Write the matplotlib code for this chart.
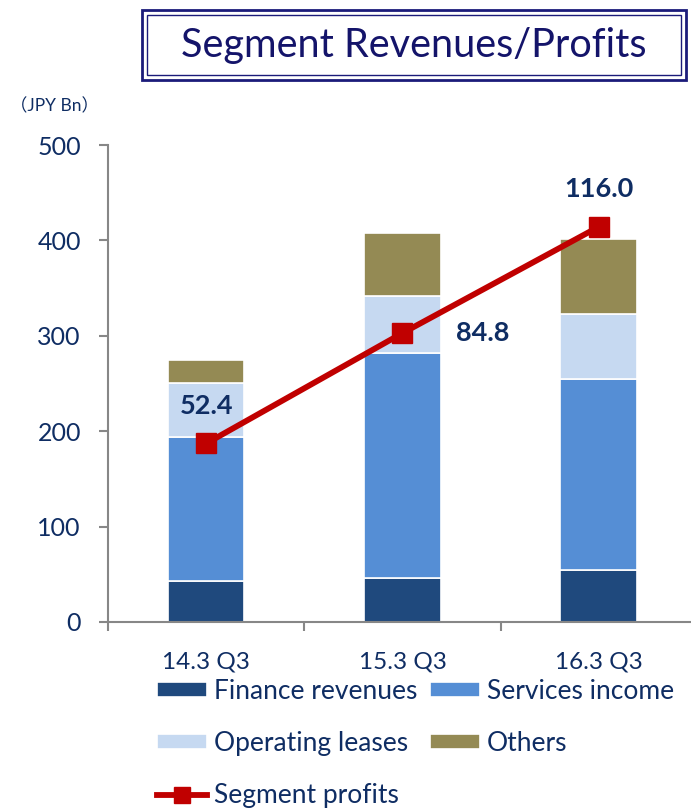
import matplotlib.pyplot as plt
from matplotlib.patches import Rectangle
from matplotlib.lines import Line2D

# data (JPY Bn)
periods = ["14.3 Q3", "15.3 Q3", "16.3 Q3"]
finance_revenues = [43, 46, 55]
services_income = [151, 236, 200]
operating_leases = [57, 60, 68]
others = [24, 66, 78]
segment_profits = [52.4, 84.8, 116.0]
profit_labels = ["52.4", "84.8", "116.0"]

NAVY = "#0F2D63"
RED = "#C00000"
GRAY = "#878787"


def main():
    plt.rcParams['font.family'] = ['Lato', 'Noto Sans CJK JP', 'DejaVu Sans']

    fig = plt.figure(figsize=(6.91, 8.08), dpi=100)
    ax = fig.add_axes([0.1563, 0.2302, 0.8437, 0.5903])

    x = list(range(len(periods)))
    w = 0.39
    b1 = finance_revenues
    b2 = [a + b for a, b in zip(b1, services_income)]
    b3 = [a + b for a, b in zip(b2, operating_leases)]
    kw = dict(width=w, edgecolor="white", linewidth=1.2, zorder=2)
    h1 = ax.bar(x, finance_revenues, color="#1F497D", **kw)
    h2 = ax.bar(x, services_income, bottom=b1, color="#558ED5", **kw)
    h3 = ax.bar(x, operating_leases, bottom=b2, color="#C6D9F1", **kw)
    h4 = ax.bar(x, others, bottom=b3, color="#948A54", **kw)

    ax.set_xlim(-0.5, 2.47)
    ax.set_ylim(0, 500)
    ax.set_yticks([0, 100, 200, 300, 400, 500])
    ax.set_xticks(x)
    ax.set_xticklabels(periods)
    ax.set_xticks([-0.5, 0.5, 1.5], minor=True)
    ax.tick_params(axis="x", which="major", length=0, pad=21,
                   labelsize=17.5, labelcolor=NAVY)
    ax.tick_params(axis="x", which="minor", length=6.5, width=1.5,
                   color=GRAY, direction="out")
    ax.tick_params(axis="y", length=6.5, width=1.5, color=GRAY, pad=13,
                   labelsize=18, labelcolor=NAVY)
    for s in ["top", "right"]:
        ax.spines[s].set_visible(False)
    for s in ["left", "bottom"]:
        ax.spines[s].set_color(GRAY)
        ax.spines[s].set_linewidth(1.5)

    # profits on a hidden secondary scale
    ax2 = ax.twinx()
    ax2.set_ylim(0, 140)
    ax2.axis("off")
    ax2.plot(x, segment_profits, color=RED, linewidth=4.2, marker="s",
             markersize=14, zorder=3)
    offsets = [(0, 27), (58, 0), (0, 27)]
    for xi, v, lab, off in zip(x, segment_profits, profit_labels, offsets):
        ax2.annotate(lab, (xi, v), xytext=off, textcoords="offset points",
                     ha="center", va="center", fontsize=19.5,
                     fontweight="bold", color=NAVY)

    # title in a double-lined box
    fig.patches.append(Rectangle((142 / 691, 1 - 80 / 808), 544 / 691,
                                 70 / 808, transform=fig.transFigure,
                                 fill=False, edgecolor="#1B1B7A",
                                 linewidth=2.0))
    fig.patches.append(Rectangle((147 / 691, 1 - 75 / 808), 534 / 691,
                                 60 / 808, transform=fig.transFigure,
                                 fill=False, edgecolor="#1B1B7A",
                                 linewidth=1.0))
    fig.text(414 / 691, 1 - 45 / 808, "Segment Revenues/Profits",
             ha="center", va="center", fontsize=28.5, color="#14146A")
    fig.text(10 / 691, 1 - 106 / 808, "（JPY Bn）", ha="left", va="center",
             fontsize=12.5, color=NAVY)

    line_handle = Line2D([], [], color=RED, linewidth=4.2, marker="s",
                         markersize=12)
    handles = [h1, h3, line_handle, h2, h4]
    labels = ["Finance revenues", "Operating leases", "Segment profits",
              "Services income", "Others"]
    leg = fig.legend(handles, labels, ncol=2, loc="upper left",
                     bbox_to_anchor=(157 / 691, 1 - 679 / 808),
                     frameon=False, fontsize=19, handlelength=1.9,
                     handleheight=0.48, handletextpad=0.27,
                     columnspacing=0.45, labelspacing=1.03,
                     borderpad=0, borderaxespad=0)
    for t in leg.get_texts():
        t.set_color(NAVY)

    plt.savefig("out.png", dpi=100)


if __name__ == '__main__':
    main()
